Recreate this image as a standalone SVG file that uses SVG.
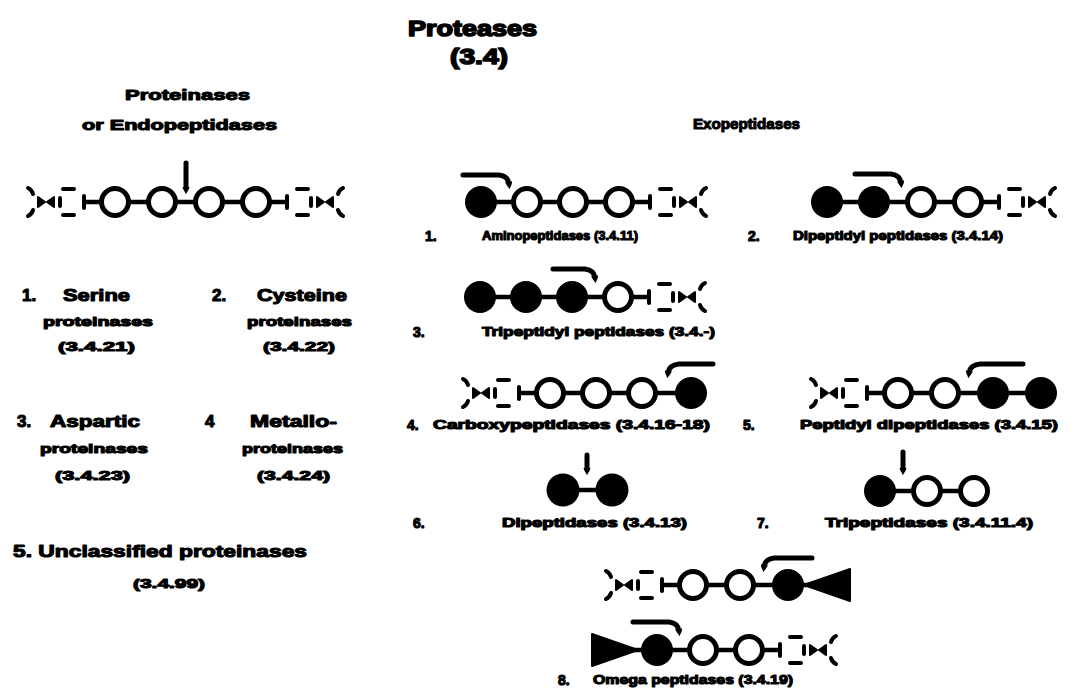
<svg xmlns="http://www.w3.org/2000/svg" xmlns:xlink="http://www.w3.org/1999/xlink" width="1083" height="692" viewBox="0 0 1083 692">
<style>
.t{font-family:"Liberation Sans",Arial,sans-serif;font-weight:bold;fill:#000;stroke:#000;stroke-width:1.1;stroke-linejoin:round}
.h1{font-size:22px;stroke-width:1.6}
.h2{font-size:15px}
.big{font-size:17px}
.sm{font-size:13px}
.lab{font-size:12.5px}
.num{font-size:14px}
.open{fill:#fff;stroke:#000;stroke-width:5}
.fill{fill:#000}
.bond{stroke:#000;stroke-width:4.5;fill:none}
.dash{stroke:#000;stroke-width:4;stroke-linecap:round;fill:none}
.arr{stroke:#000;stroke-width:5;stroke-linecap:round;fill:none}
</style>
<defs>
<marker id="tip" viewBox="0 0 10 10" refX="3" refY="5" markerWidth="1.5" markerHeight="1.5" orient="auto">
<path d="M0,0 L10,5 L0,10 z" fill="#000"/>
</marker>
<g id="tailR">
<line class="bond" x1="13" y1="0" x2="31" y2="0"/>
<line class="dash" x1="31" y1="-6" x2="31" y2="6"/>
<line class="dash" x1="41" y1="-13" x2="52" y2="-13"/>
<line class="dash" x1="41" y1="13" x2="52" y2="13"/>
<line class="dash" x1="55" y1="-4" x2="55" y2="4"/>
<path d="M61,-5 L61,5 L68,0 z" fill="#000" stroke="#000" stroke-width="2" stroke-linejoin="round"/>
<path d="M77,-5 L77,5 L70,0 z" fill="#000" stroke="#000" stroke-width="2" stroke-linejoin="round"/>
<path class="dash" d="M87,-14 Q83,-12 82,-8"/>
<path class="dash" d="M87,14 Q83,12 82,8"/>
</g>
</defs>
<rect width="1083" height="692" fill="#fff"/>

<g id="title">
<text class="t h1" x="408" y="36" textLength="129" lengthAdjust="spacingAndGlyphs">Proteases</text>
<text class="t h1" x="450" y="64" textLength="58" lengthAdjust="spacingAndGlyphs">(3.4)</text>
</g>

<g id="endopeptidases">
<text class="t h2" x="125" y="100" textLength="125" lengthAdjust="spacingAndGlyphs">Proteinases</text>
<text class="t h2" x="82" y="130" textLength="195" lengthAdjust="spacingAndGlyphs">or Endopeptidases</text>
<use href="#tailR" transform="translate(115,202) scale(-1,1)"/>
<use href="#tailR" transform="translate(256,202)"/>
<line class="bond" x1="115" y1="202" x2="256" y2="202"/>
<circle class="open" cx="115" cy="202" r="13.5"/>
<circle class="open" cx="162" cy="202" r="13.5"/>
<circle class="open" cx="209" cy="202" r="13.5"/>
<circle class="open" cx="256" cy="202" r="13.5"/>
</g>

<g id="serine">
<text class="t big" x="22" y="301">1.</text>
<text class="t big" x="63" y="301" textLength="67" lengthAdjust="spacingAndGlyphs">Serine</text>
<text class="t sm" x="43" y="326" textLength="110" lengthAdjust="spacingAndGlyphs">proteinases</text>
<text class="t sm" x="58" y="351" textLength="77" lengthAdjust="spacingAndGlyphs">(3.4.21)</text>
</g>
<g id="cysteine">
<text class="t big" x="212" y="301">2.</text>
<text class="t big" x="257" y="301" textLength="90" lengthAdjust="spacingAndGlyphs">Cysteine</text>
<text class="t sm" x="247" y="326" textLength="105" lengthAdjust="spacingAndGlyphs">proteinases</text>
<text class="t sm" x="263" y="351" textLength="72" lengthAdjust="spacingAndGlyphs">(3.4.22)</text>
</g>
<g id="aspartic">
<text class="t big" x="17" y="427">3.</text>
<text class="t big" x="50" y="427" textLength="90" lengthAdjust="spacingAndGlyphs">Aspartic</text>
<text class="t sm" x="40" y="453" textLength="108" lengthAdjust="spacingAndGlyphs">proteinases</text>
<text class="t sm" x="55" y="480" textLength="75" lengthAdjust="spacingAndGlyphs">(3.4.23)</text>
</g>
<g id="metallo">
<text class="t big" x="205" y="427">4</text>
<text class="t big" x="250" y="427" textLength="87" lengthAdjust="spacingAndGlyphs">Metallo-</text>
<text class="t sm" x="242" y="453" textLength="101" lengthAdjust="spacingAndGlyphs">proteinases</text>
<text class="t sm" x="257" y="480" textLength="73" lengthAdjust="spacingAndGlyphs">(3.4.24)</text>
</g>
<g id="unclassified">
<text class="t big" x="13" y="557" textLength="294" lengthAdjust="spacingAndGlyphs">5. Unclassified proteinases</text>
<text class="t sm" x="133" y="588" textLength="72" lengthAdjust="spacingAndGlyphs">(3.4.99)</text>
</g>

<g id="exopeptidases-heading">
<text class="t h2" x="693" y="129" textLength="107" lengthAdjust="spacingAndGlyphs">Exopeptidases</text>
</g>

<g id="aminopeptidases">
<line class="bond" x1="481" y1="202" x2="619" y2="202"/>
<use href="#tailR" transform="translate(619,202)"/>
<circle class="fill" cx="481" cy="202" r="16"/>
<circle class="open" cx="527" cy="202" r="13.5"/>
<circle class="open" cx="573" cy="202" r="13.5"/>
<circle class="open" cx="619" cy="202" r="13.5"/>
<text class="t num" x="425" y="241">1.</text>
<text class="t lab" x="482" y="240" textLength="156" lengthAdjust="spacingAndGlyphs">Aminopeptidases (3.4.11)</text>
</g>

<g id="dipeptidyl-peptidases">
<line class="bond" x1="827" y1="202" x2="968" y2="202"/>
<use href="#tailR" transform="translate(968,202)"/>
<circle class="fill" cx="827" cy="202" r="16"/>
<circle class="fill" cx="874" cy="202" r="16"/>
<circle class="open" cx="921" cy="202" r="13.5"/>
<circle class="open" cx="968" cy="202" r="13.5"/>
<text class="t num" x="748" y="241">2.</text>
<text class="t lab" x="793" y="240" textLength="210" lengthAdjust="spacingAndGlyphs">Dipeptidyl peptidases (3.4.14)</text>
</g>

<g id="tripeptidyl-peptidases">
<line class="bond" x1="480" y1="297" x2="618" y2="297"/>
<use href="#tailR" transform="translate(618,297)"/>
<circle class="fill" cx="480" cy="297" r="16"/>
<circle class="fill" cx="526" cy="297" r="16"/>
<circle class="fill" cx="572" cy="297" r="16"/>
<circle class="open" cx="618" cy="297" r="13.5"/>
<text class="t num" x="413" y="337">3.</text>
<text class="t lab" x="482" y="336" textLength="233" lengthAdjust="spacingAndGlyphs">Tripeptidyl peptidases (3.4.-)</text>
</g>

<g id="carboxypeptidases">
<line class="bond" x1="550" y1="393" x2="691" y2="393"/>
<use href="#tailR" transform="translate(550,393) scale(-1,1)"/>
<circle class="open" cx="550" cy="393" r="13.5"/>
<circle class="open" cx="596" cy="393" r="13.5"/>
<circle class="open" cx="642" cy="393" r="13.5"/>
<circle class="fill" cx="691" cy="393" r="16"/>
<text class="t num" x="407" y="430">4.</text>
<text class="t lab" x="433" y="429" textLength="277" lengthAdjust="spacingAndGlyphs">Carboxypeptidases (3.4.16-18)</text>
</g>

<g id="peptidyl-dipeptidases">
<line class="bond" x1="898" y1="393" x2="1041" y2="393"/>
<use href="#tailR" transform="translate(898,393) scale(-1,1)"/>
<circle class="open" cx="898" cy="393" r="13.5"/>
<circle class="open" cx="945" cy="393" r="13.5"/>
<circle class="fill" cx="993" cy="393" r="16"/>
<circle class="fill" cx="1041" cy="393" r="16"/>
<text class="t num" x="743" y="430">5.</text>
<text class="t lab" x="800" y="429" textLength="258" lengthAdjust="spacingAndGlyphs">Peptidyl dipeptidases (3.4.15)</text>
</g>

<g id="dipeptidases">
<line class="bond" x1="563" y1="490" x2="612" y2="490"/>
<circle class="fill" cx="563" cy="490" r="16.5"/>
<circle class="fill" cx="612" cy="490" r="16.5"/>
<text class="t num" x="413" y="528">6.</text>
<text class="t lab" x="502" y="527" textLength="185" lengthAdjust="spacingAndGlyphs">Dipeptidases (3.4.13)</text>
</g>

<g id="tripeptidases">
<line class="bond" x1="880" y1="491" x2="974" y2="491"/>
<circle class="fill" cx="880" cy="491" r="16"/>
<circle class="open" cx="927" cy="491" r="13.5"/>
<circle class="open" cx="974" cy="491" r="13.5"/>
<text class="t num" x="757" y="528">7.</text>
<text class="t lab" x="825" y="527" textLength="208" lengthAdjust="spacingAndGlyphs">Tripeptidases (3.4.11.4)</text>
</g>

<g id="omega-peptidases">
<line class="bond" x1="693" y1="585" x2="815" y2="585"/>
<use href="#tailR" transform="translate(693,585) scale(-1,1)"/>
<circle class="open" cx="693" cy="585" r="13.5"/>
<circle class="open" cx="740" cy="585" r="13.5"/>
<circle class="fill" cx="788" cy="585" r="16"/>
<path d="M804,585 L850,569 L850,601 z" fill="#000" stroke="#000" stroke-width="2" stroke-linejoin="round"/>
<line class="bond" x1="630" y1="650" x2="749" y2="650"/>
<use href="#tailR" transform="translate(749,650)"/>
<path d="M592,634 L592,666 L638,650 z" fill="#000" stroke="#000" stroke-width="2" stroke-linejoin="round"/>
<circle class="fill" cx="657" cy="650" r="16"/>
<circle class="open" cx="703" cy="650" r="13.5"/>
<circle class="open" cx="749" cy="650" r="13.5"/>
<text class="t num" x="558" y="685">8.</text>
<text class="t lab" x="593" y="684" textLength="200" lengthAdjust="spacingAndGlyphs">Omega peptidases (3.4.19)</text>
</g>

<g id="connectors">
<path class="arr" d="M186,163 L186,189" marker-end="url(#tip)"/>
<path class="arr" d="M463,175 H499 Q508,176 509,184" marker-end="url(#tip)"/>
<path class="arr" d="M855,174 H891 Q900,175 901,183" marker-end="url(#tip)"/>
<path class="arr" d="M553,269 H585 Q594,270 595,278" marker-end="url(#tip)"/>
<path class="arr" d="M713,364 H679 Q669,365 668,373" marker-end="url(#tip)"/>
<path class="arr" d="M1023,364 H980 Q970,365 969,373" marker-end="url(#tip)"/>
<path class="arr" d="M587,455 L587,470" marker-end="url(#tip)"/>
<path class="arr" d="M903,452 L903,470" marker-end="url(#tip)"/>
<path class="arr" d="M812,558 H774 Q765,559 764,567" marker-end="url(#tip)"/>
<path class="arr" d="M633,622 H669 Q678,623 679,631" marker-end="url(#tip)"/>
</g>
</svg>
